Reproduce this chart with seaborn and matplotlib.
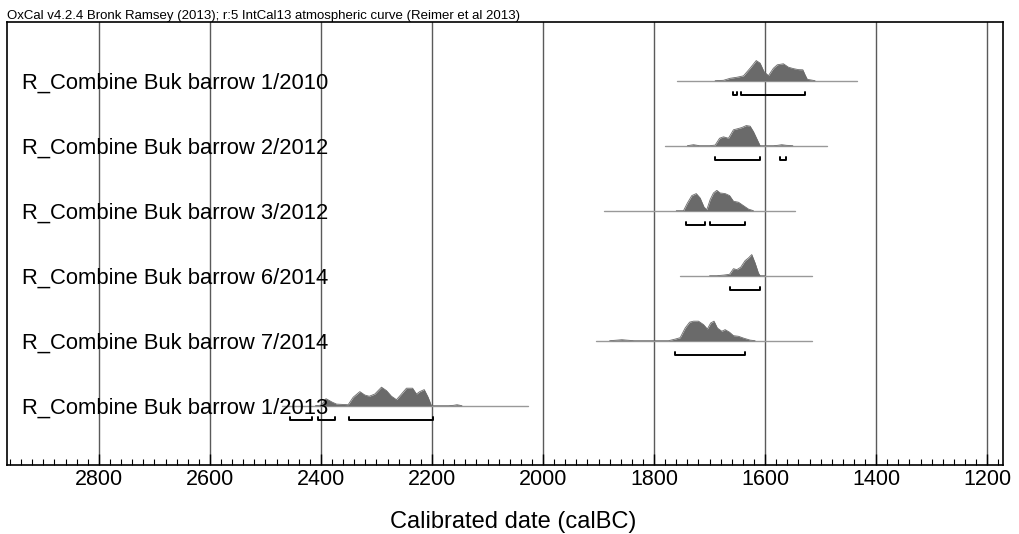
import matplotlib.pyplot as plt
import pandas as pd
import seaborn as sns
from matplotlib.ticker import MultipleLocator

# Sample names, top to bottom
labels = ["R_Combine Buk barrow 1/2010", "R_Combine Buk barrow 2/2012",
          "R_Combine Buk barrow 3/2012", "R_Combine Buk barrow 6/2014",
          "R_Combine Buk barrow 7/2014", "R_Combine Buk barrow 1/2013"]

# extent of the thin baseline for each distribution (calBC)
spans = [(1759, 1434), (1780, 1489), (1890, 1546),
         (1754, 1516), (1904, 1516), (2470, 2027)]

# posterior distributions (year calBC, relative probability)
r1_years = [1690, 1675, 1663, 1651, 1639, 1627, 1616, 1609, 1602, 1594, 1585,
            1578, 1567, 1558, 1549, 1540, 1532, 1528, 1524, 1510]
r1_prob = [0, 0.02, 0.12, 0.17, 0.24, 0.62, 1.0, 0.87, 0.45, 0.25, 0.62,
           0.79, 0.84, 0.67, 0.60, 0.55, 0.54, 0.29, 0.07, 0]

r2_years = [1740, 1729, 1718, 1700, 1690, 1682, 1675, 1666, 1657, 1650, 1642,
            1634, 1627, 1621, 1614, 1609, 1585, 1577, 1570, 1562, 1550]
r2_prob = [0, 0.05, 0, 0, 0.03, 0.37, 0.44, 0.37, 0.79, 0.84, 0.9,
           1.0, 0.97, 0.7, 0.29, 0, 0, 0.02, 0.05, 0.02, 0]

r3_years = [1760, 1747, 1740, 1732, 1724, 1717, 1710, 1705, 1699, 1693, 1687,
            1681, 1672, 1664, 1657, 1648, 1639, 1630, 1621]
r3_prob = [0, 0, 0.38, 0.75, 0.85, 0.63, 0.18, 0.05, 0.55, 0.88, 1.01,
           0.88, 0.85, 0.75, 0.47, 0.42, 0.25, 0.08, 0]

r4_years = [1700, 1687, 1675, 1664, 1657, 1651, 1644, 1636, 1630, 1624, 1618,
            1612, 1609, 1600]
r4_prob = [0, 0, 0.03, 0.07, 0.35, 0.3, 0.42, 0.75, 0.88, 1.05, 0.63,
           0.13, 0, 0]

r5_years = [1880, 1866, 1858, 1850, 1836, 1774, 1762, 1753, 1744, 1736, 1729,
            1720, 1711, 1704, 1698, 1692, 1686, 1678, 1672, 1664, 1657, 1648,
            1639, 1627, 1618]
r5_prob = [0, 0.03, 0.05, 0.03, 0, 0, 0.08, 0.15, 0.63, 0.92, 0.97,
           0.97, 0.8, 0.58, 0.88, 0.97, 0.63, 0.47, 0.55, 0.42, 0.25, 0.22,
           0.13, 0.03, 0]

r6_years = [2410, 2399, 2391, 2380, 2372, 2351, 2342, 2330, 2321, 2313, 2303,
            2291, 2282, 2273, 2264, 2255, 2246, 2235, 2228, 2222, 2214, 2207,
            2201, 2170, 2161, 2155, 2146]
r6_prob = [0, 0.03, 0.35, 0.18, 0.08, 0.05, 0.42, 0.7, 0.53, 0.47, 0.58,
           0.92, 0.75, 0.47, 0.3, 0.58, 0.87, 0.87, 0.58, 0.7, 0.8, 0.42,
           0, 0, 0.02, 0.05, 0]

# 95.4% ranges drawn as brackets under each distribution
r1_ranges = [(1658, 1651), (1644, 1528)]
r2_ranges = [(1691, 1609), (1574, 1562)]
r3_ranges = [(1742, 1708), (1699, 1636)]
r4_ranges = [(1664, 1609)]
r5_ranges = [(1762, 1636)]
r6_ranges = [(2456, 2417), (2406, 2374), (2350, 2199)]

years_list = [r1_years, r2_years, r3_years, r4_years, r5_years, r6_years]
prob_list = [r1_prob, r2_prob, r3_prob, r4_prob, r5_prob, r6_prob]
range_list = [r1_ranges, r2_ranges, r3_ranges, r4_ranges, r5_ranges, r6_ranges]

title = "OxCal v4.2.4 Bronk Ramsey (2013); r:5 IntCal13 atmospheric curve (Reimer et al 2013)"

sns.set_style("white")
plt.rcParams['font.family'] = ['Liberation Sans', 'DejaVu Sans']
plt.rcParams['text.color'] = 'black'
plt.rcParams['axes.labelcolor'] = 'black'
plt.rcParams['xtick.color'] = 'black'

fig = plt.figure(figsize=(10.2, 5.34), dpi=100)
ax = fig.add_axes([0.0066, 1 - 465 / 534, 0.977, 443 / 534])

peak_h = 0.31  # row units for a relative probability of 1

for i, lab in enumerate(labels):
    x0, x1 = spans[i]
    ax.plot([x0, x1], [i, i], color='#999999', lw=1, zorder=2)

    df = pd.DataFrame({'year': years_list[i],
                       'y': [i - p * peak_h for p in prob_list[i]]})
    ax.fill_between(df['year'], i, df['y'], color='#6a6a6a', lw=0, zorder=3)
    sns.lineplot(data=df, x='year', y='y', color='#6a6a6a', lw=0.6,
                 sort=False, ax=ax, zorder=3)

    yb = i + 0.225
    for a, b in range_list[i]:
        ax.plot([a, a, b, b], [yb - 0.05, yb, yb, yb - 0.05],
                color='black', lw=1.4, zorder=4)

    ax.text(0.0154, i + 0.12, lab, transform=ax.get_yaxis_transform(),
            fontsize=15.8, va='baseline', ha='left', color='black', zorder=5)

ax.set_xlim(2966, 1171)
ax.set_ylim(5.912, -0.903)
ax.xaxis.set_major_locator(MultipleLocator(200))
ax.xaxis.set_minor_locator(MultipleLocator(20))
ax.set_yticks([])
ax.xaxis.grid(True, which='major', color='#5a5a5a', lw=1)
ax.tick_params(axis='x', which='major', direction='in', length=8, width=1,
               pad=3, labelsize=15.5, bottom=True, labelcolor='black')
ax.tick_params(axis='x', which='minor', direction='in', length=4.5,
               width=0.8, bottom=True)
for s in ax.spines.values():
    s.set_color('black')
    s.set_linewidth(1.2)

ax.set_xlabel('Calibrated date (calBC)', fontsize=17, color='black')
ax.set_ylabel('')
ax.xaxis.set_label_coords(0.508, -0.104)

fig.text(0.007, 1 - 19.3 / 534, title, fontsize=9.5, va='baseline',
         ha='left', color='black')

fig.savefig('out.png', dpi=100)
